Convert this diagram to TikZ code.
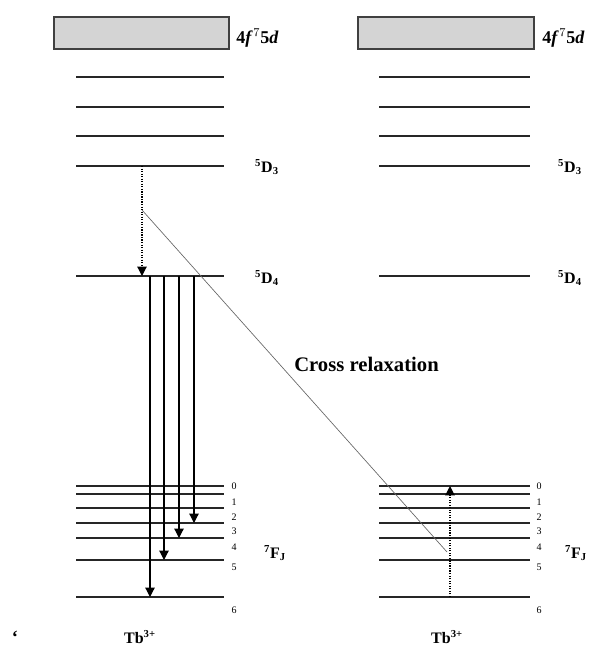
\documentclass[tikz,border=0pt]{standalone}
\usepackage{fontspec}
\setmainfont{Liberation Serif}
\usetikzlibrary{arrows.meta}
\begin{document}
\begin{tikzpicture}[x=0.75pt,y=-0.75pt,
  lvl/.style={line width=1.1pt, black!85},
  band/.style={draw=black!75, line width=1.2pt, fill=black!17},
  emis/.style={line width=0.9pt, -{Triangle[width=7pt,length=7pt]}},
  dotarrow/.style={line width=0.9pt, densely dotted, -{Triangle[width=7pt,length=7pt]}},
  cross/.style={line width=0.5pt, black!60},
  bandlbl/.style={font=\fontsize{13.5}{15}\selectfont\bfseries, inner sep=0pt},
  termlbl/.style={font=\fontsize{12}{14}\selectfont\bfseries, inner sep=0pt},
  jlbl/.style={font=\fontsize{7.5}{8}\selectfont, inner sep=0pt},
  ionlbl/.style={font=\fontsize{12}{14}\selectfont\bfseries, inner sep=0pt}]
\useasboundingbox (0,0) rectangle (594,646);

% ---- left ion ----
\node[band, minimum width=175*0.75pt, minimum height=32*0.75pt, inner sep=0pt, anchor=north west] (Lband) at (53,16) {};
\node[bandlbl, anchor=west] (Lbandlbl) at (236,38) {4\textit{f}\kern0.5pt$^{7}$5\textit{d}};
\foreach \y/\n in {77/a,107/b,136/c,166/d3,276/d4,486/f0,494/f1,508/f2,523/f3,538/f4,560/f5,597/f6}{
  \coordinate (L\n w) at (76,\y);
  \coordinate (L\n e) at (224,\y);
  \draw[lvl] (L\n w) -- (L\n e);
}
% ---- right ion ----
\node[band, minimum width=176*0.75pt, minimum height=32*0.75pt, inner sep=0pt, anchor=north west] (Rband) at (357,16) {};
\node[bandlbl, anchor=west] (Rbandlbl) at (542,38) {4\textit{f}\kern0.5pt$^{7}$5\textit{d}};
\foreach \y/\n in {77/a,107/b,136/c,166/d3,276/d4,486/f0,494/f1,508/f2,523/f3,538/f4,560/f5,597/f6}{
  \coordinate (R\n w) at (379,\y);
  \coordinate (R\n e) at (530,\y);
  \draw[lvl] (R\n w) -- (R\n e);
}

% term labels
\node[termlbl] (LD3) at (267,167) {\textsuperscript{5}D\textsubscript{3}};
\node[termlbl] (LD4) at (267,278) {\textsuperscript{5}D\textsubscript{4}};
\node[termlbl] (RD3) at (570,167) {\textsuperscript{5}D\textsubscript{3}};
\node[termlbl] (RD4) at (570,278) {\textsuperscript{5}D\textsubscript{4}};
\node[termlbl] (LF) at (275,553) {\textsuperscript{7}F\textsubscript{J}};
\node[termlbl] (RF) at (576,553) {\textsuperscript{7}F\textsubscript{J}};

% J labels
\foreach \y/\j in {486/0,502/1,517/2,531/3,547/4,567/5,610/6}{
  \node[jlbl] (LJ\j) at (234,\y) {\j};
  \node[jlbl] (RJ\j) at (539,\y) {\j};
}

% ion labels
\node[ionlbl] (Lion) at (140,637) {Tb\textsuperscript{3+}};
\node[ionlbl] (Rion) at (447,637) {Tb\textsuperscript{3+}};
\node[font=\fontsize{14}{15}\selectfont\bfseries, inner sep=0pt, anchor=base] (quote) at (15,643) {‘};

% non-radiative relaxation 5D3 -> 5D4
\coordinate (Lnr0) at (142,166);
\coordinate (Lnr1) at (142,276);
\draw[dotarrow] (Lnr0) -- (Lnr1);

% emissions 5D4 -> 7FJ
\foreach \x/\t in {150/597,164/560,179/538,194/523}{
  \coordinate (Le\x s) at (\x,276);
  \coordinate (Le\x t) at (\x,\t);
  \draw[emis] (Le\x s) -- (Le\x t);
}

% cross relaxation
\coordinate (CRa) at (142,210);
\coordinate (CRb) at (447,552);
\draw[cross] (CRa) -- (CRb);
\node[font=\fontsize{15.5}{17}\selectfont\bfseries, inner sep=0pt, anchor=west] (CRlbl) at (294,364) {Cross relaxation};

% right ion excitation 7F6 -> 7F0
\coordinate (Rx0) at (450,597);
\coordinate (Rx1) at (450,486);
\draw[dotarrow] (Rx0) -- (Rx1);
\end{tikzpicture}
\end{document}
